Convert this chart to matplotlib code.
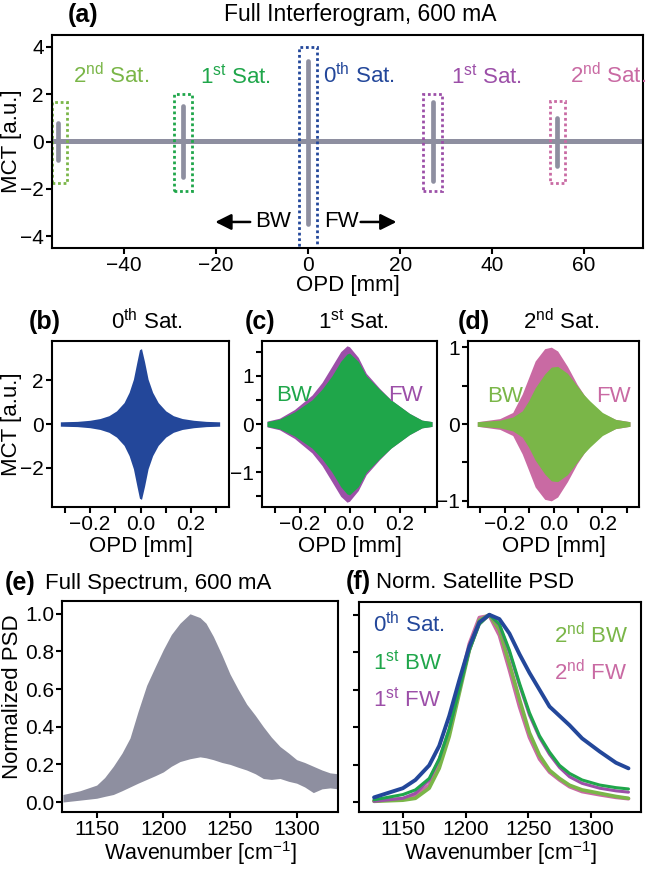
import matplotlib
matplotlib.use("Agg")
import matplotlib.pyplot as plt
from matplotlib.patches import Rectangle
import numpy as np

plt.rcParams['font.family'] = ['Liberation Sans', 'DejaVu Sans']
plt.rcParams['mathtext.fontset'] = 'custom'
plt.rcParams['mathtext.rm'] = 'Liberation Sans'
plt.rcParams['mathtext.it'] = 'Liberation Sans:italic'
plt.rcParams['mathtext.bf'] = 'Liberation Sans:bold'
plt.rcParams['axes.linewidth'] = 1.5

FS = 16       # labels and annotations
TFS = 15      # tick labels
# colours
GRAY = '#8e8fa0'
C0 = '#23479a'      # 0th sat
C1BW = '#1fa64a'    # 1st BW
C1FW = '#9c4fa8'    # 1st FW
C2BW = '#7ab648'    # 2nd BW
C2FW = '#c96aa3'    # 2nd FW

# ---------------- data ----------------
# (a) full interferogram: satellite positions and peak amplitudes
sat_pos = [-54.3, -27.2, 0.0, 27.2, 54.1]
sat_top = [0.8, 1.5, 3.4, 1.65, 1.0]
sat_bot = [-0.8, -1.5, -3.5, -1.65, -1.05]
sat_colors = [C2BW, C1BW, C0, C1FW, C2FW]
base_x = [-55.7, 72.8]
base_amp = [0.1, 0.1]
# dotted boxes (x0, x1, y0, y1)
box_x0 = [-55.6, -29.1, -2.0, 25.0, 52.6]
box_x1 = [-52.4, -25.2, 2.0, 29.0, 55.9]
box_y0 = [-1.77, -2.1, -4.5, -2.1, -1.76]
box_y1 = [1.68, 2.0, 4.0, 2.0, 1.73]
sat_labels = ['2$^{\\rm nd}$ Sat.', '1$^{\\rm st}$ Sat.', '0$^{\\rm th}$ Sat.',
              '1$^{\\rm st}$ Sat.', '2$^{\\rm nd}$ Sat.']
sat_label_x = [-51.1, -23.5, 3.2, 31.1, 57.0]

# (b) 0th satellite envelope
b_x = [-0.317, -0.25, -0.2, -0.16, -0.125, -0.095, -0.065, -0.045, -0.028,
       -0.014, -0.004, 0.004, 0.016, 0.03, 0.048, 0.07, 0.1, 0.13, 0.165, 0.21,
       0.26, 0.313]
b_amp = [0.1, 0.12, 0.17, 0.25, 0.38, 0.6, 0.98, 1.45, 2.05, 2.85, 3.4, 3.45,
         2.85, 2.05, 1.45, 0.98, 0.6, 0.38, 0.25, 0.17, 0.12, 0.1]

# (c) 1st satellite envelopes
c_x = [-0.33, -0.28, -0.22, -0.15, -0.11, -0.07, -0.035, -0.01, 0.0, 0.035,
       0.067, 0.12, 0.166, 0.24, 0.29, 0.33]
c_fw = [0.06, 0.12, 0.3, 0.6, 0.86, 1.2, 1.5, 1.62, 1.6, 1.38, 1.05, 0.74,
        0.5, 0.22, 0.08, 0.05]
c_bw = [0.05, 0.1, 0.25, 0.5, 0.72, 1.0, 1.3, 1.45, 1.47, 1.3, 1.0, 0.72,
        0.5, 0.22, 0.08, 0.05]

# (d) 2nd satellite envelopes
d_x = [-0.312, -0.22, -0.167, -0.128, -0.102, -0.075, -0.036, -0.009, 0.017,
       0.057, 0.096, 0.125, 0.149, 0.2, 0.254, 0.313]
d_fw = [0.03, 0.07, 0.15, 0.39, 0.6, 0.82, 0.98, 1.0, 0.95, 0.75, 0.52, 0.38,
        0.28, 0.14, 0.06, 0.03]
d_bw = [0.03, 0.05, 0.09, 0.17, 0.3, 0.47, 0.65, 0.74, 0.75, 0.66, 0.5, 0.38,
        0.3, 0.15, 0.06, 0.03]

# (e) full spectrum band (upper / lower envelope)
e_wn = [1124.7, 1137.5, 1150, 1156, 1162.5, 1169, 1175, 1181, 1187.5, 1194, 1200,
        1206, 1212.5, 1220, 1227.5, 1232, 1237.5, 1244, 1250, 1256, 1262.5, 1269,
        1275, 1281, 1287.5, 1294, 1300, 1306, 1312.5, 1319, 1325, 1331]
e_hi = [0.04, 0.06, 0.09, 0.13, 0.19, 0.26, 0.34, 0.48, 0.62, 0.72, 0.81, 0.89,
        0.95, 1.0, 0.98, 0.95, 0.88, 0.78, 0.68, 0.6, 0.52, 0.46, 0.40, 0.345,
        0.295, 0.26, 0.225, 0.21, 0.19, 0.17, 0.155, 0.15]
e_lo = [0.0, 0.01, 0.02, 0.03, 0.04, 0.06, 0.08, 0.1, 0.12, 0.14, 0.16, 0.19,
        0.215, 0.23, 0.24, 0.235, 0.225, 0.21, 0.20, 0.185, 0.17, 0.15, 0.125,
        0.12, 0.125, 0.11, 0.10, 0.08, 0.05, 0.07, 0.075, 0.07]

# (f) normalised satellite PSDs
f_wn = [1127, 1150, 1160, 1171, 1179, 1187, 1195, 1203, 1211, 1219, 1227, 1235,
        1243, 1251, 1259, 1267, 1275, 1283, 1293, 1307, 1320, 1330]
f_0 = [0.025, 0.074, 0.118, 0.196, 0.30, 0.46, 0.65, 0.83, 0.96, 1.0, 0.977,
       0.90, 0.79, 0.69, 0.60, 0.51, 0.46, 0.41, 0.34, 0.27, 0.21, 0.18]
f_1bw = [0.012, 0.04, 0.065, 0.126, 0.23, 0.39, 0.60, 0.81, 0.95, 1.0, 0.95,
         0.81, 0.635, 0.477, 0.354, 0.267, 0.196, 0.153, 0.118, 0.091, 0.077, 0.07]
f_1fw = [0.004, 0.02, 0.047, 0.118, 0.23, 0.39, 0.60, 0.81, 0.95, 1.0, 0.945,
         0.80, 0.625, 0.465, 0.345, 0.255, 0.185, 0.135, 0.10, 0.074, 0.06, 0.053]
f_2bw = [0.004, 0.01, 0.02, 0.074, 0.18, 0.35, 0.58, 0.81, 0.97, 1.0, 0.92,
         0.74, 0.55, 0.37, 0.25, 0.17, 0.126, 0.09, 0.065, 0.047, 0.03, 0.02]
f_2fw = [0.007, 0.018, 0.035, 0.09, 0.196, 0.37, 0.62, 0.845, 0.985, 0.995,
         0.89, 0.705, 0.51, 0.345, 0.23, 0.16, 0.118, 0.082, 0.056, 0.039, 0.025,
         0.018]

# ---------------- layout ----------------
W, H = 646, 869
fig = plt.figure(figsize=(W / 100, H / 100), dpi=100)


def rect(l, r, t, b):
    return [l / W, 1 - b / H, (r - l) / W, (b - t) / H]


def style(ax, pad=2):
    ax.tick_params(which='both', direction='out', length=4, width=1.5,
                   labelsize=TFS, pad=pad)


def ftext(x, y, s, **kw):
    # text placed in figure pixel coordinates (from top-left)
    fig.text(x / W, 1 - y / H, s, va='center', **kw)


ax_a = fig.add_axes(rect(52, 643, 35, 248))
ax_b = fig.add_axes(rect(52, 229, 341, 507))
ax_c = fig.add_axes(rect(262, 437, 341, 507))
ax_d = fig.add_axes(rect(468, 639, 341, 507))
ax_e = fig.add_axes(rect(62, 338, 601, 812))
ax_f = fig.add_axes(rect(359, 641, 602, 812))

# ---------------- (a) ----------------
ax_a.fill_between(base_x, -np.array(base_amp), base_amp, color=GRAY, lw=0)
ax_a.vlines(sat_pos, sat_bot, sat_top, color=GRAY, lw=3.4, capstyle='round')
for x0, x1, y0, y1, c in zip(box_x0, box_x1, box_y0, box_y1, sat_colors):
    ax_a.add_patch(Rectangle((x0, y0), x1 - x0, y1 - y0, fill=False, ec=c,
                             lw=2, ls=(0, (1, 1))))
for lab, x, c in zip(sat_labels, sat_label_x, sat_colors):
    ax_a.text(x, 2.45, lab, color=c, fontsize=FS, va='baseline', ha='left')
ax_a.annotate('', xy=(-20.8, -3.4), xytext=(-12.0, -3.4),
              arrowprops=dict(arrowstyle='-|>', color='k', lw=1.8, mutation_scale=24))
ax_a.text(-11.6, -3.4, 'BW', fontsize=FS, va='center', ha='left')
ax_a.annotate('', xy=(19.8, -3.4), xytext=(10.8, -3.4),
              arrowprops=dict(arrowstyle='-|>', color='k', lw=1.8, mutation_scale=24))
ax_a.text(3.4, -3.4, 'FW', fontsize=FS, va='center', ha='left')
ax_a.set_xlim(-55.7, 72.8)
ax_a.set_ylim(-4.5, 4.5)
ax_a.set_xticks([-40, -20, 0, 20, 40, 60])
ax_a.set_yticks([-4, -2, 0, 2, 4])
ax_a.set_xlabel('OPD [mm]', fontsize=FS, labelpad=0)
style(ax_a)
ftext(12, 141, 'MCT [a.u.]', rotation=90, ha='center', fontsize=FS)

# ---------------- (b)-(d) ----------------
ax_b.fill_between(b_x, -np.array(b_amp), b_amp, color=C0, lw=0)
ax_b.set_ylim(-3.8, 3.8)
ax_b.set_yticks([-2, 0, 2])
ftext(12, 424, 'MCT [a.u.]', rotation=90, ha='center', fontsize=FS)

ax_c.fill_between(c_x, -np.array(c_fw), c_fw, color=C1FW, lw=0)
ax_c.fill_between(c_x, -np.array(c_bw), c_bw, color=C1BW, lw=0)
ax_c.text(-0.293, 0.47, 'BW', color=C1BW, fontsize=FS, va='baseline')
ax_c.text(0.155, 0.47, 'FW', color=C1FW, fontsize=FS, va='baseline')
ax_c.set_ylim(-1.72, 1.72)
ax_c.set_yticks([-1, 0, 1])
ax_c.set_yticks([-1.5, -0.5, 0.5, 1.5], minor=True)

ax_d.fill_between(d_x, -np.array(d_fw), d_fw, color=C2FW, lw=0)
ax_d.fill_between(d_x, -np.array(d_bw), d_bw, color=C2BW, lw=0)
ax_d.text(-0.273, 0.28, 'BW', color=C2BW, fontsize=FS, va='baseline')
ax_d.text(0.174, 0.28, 'FW', color=C2FW, fontsize=FS, va='baseline')
ax_d.set_ylim(-1.08, 1.08)
ax_d.set_yticks([-1, 0, 1])
ax_d.set_yticks([-0.5, 0.5], minor=True)

for ax in (ax_b, ax_c, ax_d):
    ax.set_xlim(-0.35, 0.35)
    ax.set_xticks([-0.2, 0.0, 0.2])
    ax.set_xticks([-0.3, -0.1, 0.1, 0.3], minor=True)
    ax.set_xlabel('OPD [mm]', fontsize=FS, labelpad=1)
    style(ax)

# ---------------- (e) ----------------
ax_e.fill_between(e_wn, e_lo, e_hi, color=GRAY, lw=0)
ax_e.set_xlim(1124, 1331)
ftext(13, 697, 'Normalized PSD', rotation=90, ha='center', fontsize=FS)

# ---------------- (f) ----------------
for y, c, lw in [(f_2fw, C2FW, 2.6), (f_2bw, C2BW, 2.6), (f_1fw, C1FW, 2.2),
                 (f_1bw, C1BW, 2.2), (f_0, C0, 2.8)]:
    ax_f.plot(f_wn, y, color=c, lw=lw, solid_capstyle='round')
ax_f.text(1126, 0.907, '0$^{\\rm th}$ Sat.', color=C0, fontsize=FS)
ax_f.text(1126, 0.709, '1$^{\\rm st}$ BW', color=C1BW, fontsize=FS)
ax_f.text(1126, 0.512, '1$^{\\rm st}$ FW', color=C1FW, fontsize=FS)
ax_f.text(1270.7, 0.846, '2$^{\\rm nd}$ BW', color=C2BW, fontsize=FS)
ax_f.text(1270.7, 0.653, '2$^{\\rm nd}$ FW', color=C2FW, fontsize=FS)
ax_f.set_xlim(1115, 1340)

for ax in (ax_e, ax_f):
    ax.set_ylim(-0.053, 1.068)
    ax.set_xticks([1150, 1200, 1250, 1300])
    ax.set_yticks([0.0, 0.2, 0.4, 0.6, 0.8, 1.0])
    ax.set_xlabel('Wavenumber [cm$^{-1}$]', fontsize=15.5, labelpad=0)
    style(ax, pad=1.5)
ax_f.set_yticklabels([])

# ---------------- titles ----------------
ftext(83, 15, '(a)', ha='center', fontsize=18, fontweight='bold')
ftext(360, 15, 'Full Interferogram, 600 mA', ha='center', fontsize=16.5)
ftext(45, 322, '(b)', ha='center', fontsize=18, fontweight='bold')
ftext(147, 322, '0$^{\\rm th}$ Sat.', ha='center', fontsize=FS)
ftext(260, 322, '(c)', ha='center', fontsize=18, fontweight='bold')
ftext(353, 322, '1$^{\\rm st}$ Sat.', ha='center', fontsize=FS)
ftext(474, 322, '(d)', ha='center', fontsize=18, fontweight='bold')
ftext(561, 322, '2$^{\\rm nd}$ Sat.', ha='center', fontsize=FS)
ftext(20, 583, '(e)', ha='center', fontsize=18, fontweight='bold')
ftext(45, 583, 'Full Spectrum, 600 mA', ha='left', fontsize=FS)
ftext(358, 582, '(f)', ha='center', fontsize=18, fontweight='bold')
ftext(376, 582, 'Norm. Satellite PSD', ha='left', fontsize=FS)

fig.savefig('out.png', dpi=100)
